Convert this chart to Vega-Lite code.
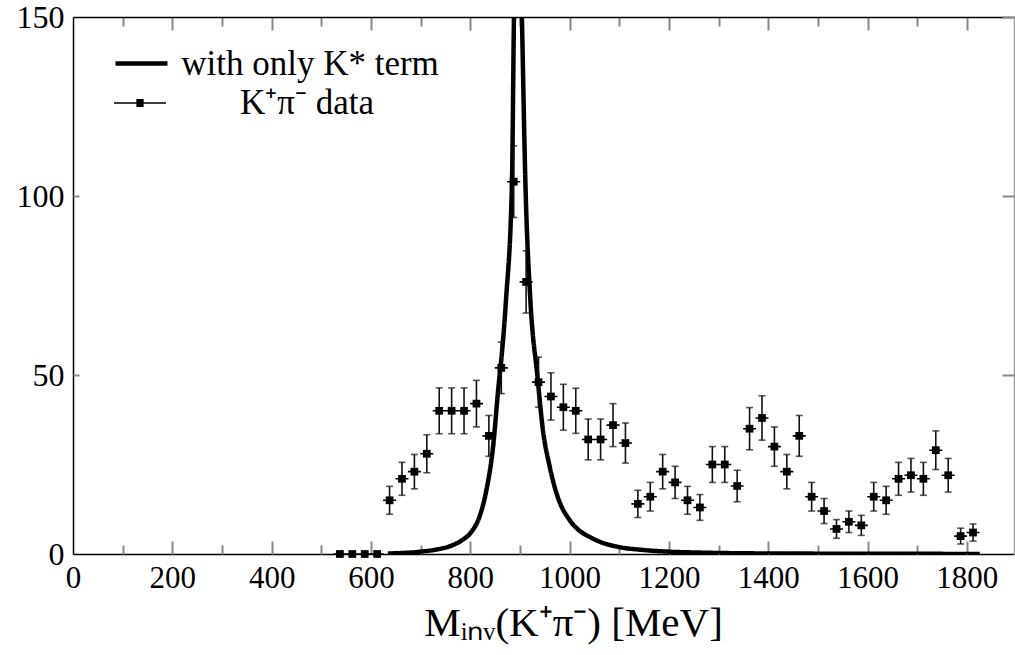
{
  "$schema": "https://vega.github.io/schema/vega-lite/v6.json",
  "autosize": {"type": "none"},
  "padding": {"left": 73, "top": 17, "right": 1, "bottom": 101},
  "width": 941,
  "height": 537,
  "background": "white",
  "config": {
    "view": {"stroke": null},
    "font": "Liberation Serif",
    "axis": {"grid": false, "labelFont": "Liberation Serif", "titleFont": "Liberation Serif", "labelColor": "black", "titleColor": "black", "titleFontWeight": "normal", "format": "d"}
  },
  "datasets": {
    "curve": [
      {"m": 634, "y": 0.15, "series": "with only K* term"},
      {"m": 660, "y": 0.25, "series": "with only K* term"},
      {"m": 700, "y": 0.65, "series": "with only K* term"},
      {"m": 730, "y": 1.2, "series": "with only K* term"},
      {"m": 765, "y": 2.5, "series": "with only K* term"},
      {"m": 785, "y": 4, "series": "with only K* term"},
      {"m": 800, "y": 5.8, "series": "with only K* term"},
      {"m": 820, "y": 11, "series": "with only K* term"},
      {"m": 832, "y": 17.5, "series": "with only K* term"},
      {"m": 846, "y": 30, "series": "with only K* term"},
      {"m": 857, "y": 47, "series": "with only K* term"},
      {"m": 863, "y": 55, "series": "with only K* term"},
      {"m": 872, "y": 71, "series": "with only K* term"},
      {"m": 884, "y": 104, "series": "with only K* term"},
      {"m": 888, "y": 150, "series": "with only K* term"},
      {"m": 896, "y": 200, "series": "with only K* term"},
      {"m": 904, "y": 150, "series": "with only K* term"},
      {"m": 911, "y": 104, "series": "with only K* term"},
      {"m": 921, "y": 71, "series": "with only K* term"},
      {"m": 935, "y": 50, "series": "with only K* term"},
      {"m": 946, "y": 35, "series": "with only K* term"},
      {"m": 960, "y": 24.4, "series": "with only K* term"},
      {"m": 976, "y": 16, "series": "with only K* term"},
      {"m": 1000, "y": 9.5, "series": "with only K* term"},
      {"m": 1020, "y": 6.5, "series": "with only K* term"},
      {"m": 1040, "y": 4.8, "series": "with only K* term"},
      {"m": 1065, "y": 3.2, "series": "with only K* term"},
      {"m": 1094, "y": 2.1, "series": "with only K* term"},
      {"m": 1150, "y": 1.1, "series": "with only K* term"},
      {"m": 1200, "y": 0.65, "series": "with only K* term"},
      {"m": 1260, "y": 0.4, "series": "with only K* term"},
      {"m": 1350, "y": 0.2, "series": "with only K* term"},
      {"m": 1500, "y": 0.1, "series": "with only K* term"},
      {"m": 1650, "y": 0.05, "series": "with only K* term"},
      {"m": 1826, "y": 0.03, "series": "with only K* term"}
    ],
    "pts": [
      {"m": 537.5, "n": 0, "lo": 0, "hi": 0, "series": "K⁺π⁻ data"},
      {"m": 562.5, "n": 0, "lo": 0, "hi": 0, "series": "K⁺π⁻ data"},
      {"m": 587.5, "n": 0, "lo": 0, "hi": 0, "series": "K⁺π⁻ data"},
      {"m": 612.5, "n": 0, "lo": 0, "hi": 0, "series": "K⁺π⁻ data"},
      {"m": 637.5, "n": 15, "lo": 11.1, "hi": 18.9, "series": "K⁺π⁻ data"},
      {"m": 662.5, "n": 21, "lo": 16.4, "hi": 25.6, "series": "K⁺π⁻ data"},
      {"m": 687.5, "n": 23, "lo": 18.2, "hi": 27.8, "series": "K⁺π⁻ data"},
      {"m": 712.5, "n": 28, "lo": 22.7, "hi": 33.3, "series": "K⁺π⁻ data"},
      {"m": 737.5, "n": 40, "lo": 33.6, "hi": 46.4, "series": "K⁺π⁻ data"},
      {"m": 762.5, "n": 40, "lo": 33.6, "hi": 46.4, "series": "K⁺π⁻ data"},
      {"m": 787.5, "n": 40, "lo": 33.6, "hi": 46.4, "series": "K⁺π⁻ data"},
      {"m": 812.5, "n": 42, "lo": 35.5, "hi": 48.5, "series": "K⁺π⁻ data"},
      {"m": 837.5, "n": 33, "lo": 27.3, "hi": 38.7, "series": "K⁺π⁻ data"},
      {"m": 862.5, "n": 52, "lo": 44.8, "hi": 59.2, "series": "K⁺π⁻ data"},
      {"m": 887.5, "n": 104, "lo": 94, "hi": 114, "series": "K⁺π⁻ data"},
      {"m": 912.5, "n": 76, "lo": 67.3, "hi": 84.7, "series": "K⁺π⁻ data"},
      {"m": 937.5, "n": 48, "lo": 41, "hi": 55, "series": "K⁺π⁻ data"},
      {"m": 962.5, "n": 44, "lo": 37.4, "hi": 50.6, "series": "K⁺π⁻ data"},
      {"m": 987.5, "n": 41, "lo": 34.6, "hi": 47.4, "series": "K⁺π⁻ data"},
      {"m": 1012.5, "n": 40, "lo": 33.7, "hi": 46.3, "series": "K⁺π⁻ data"},
      {"m": 1037.5, "n": 32, "lo": 26.3, "hi": 37.7, "series": "K⁺π⁻ data"},
      {"m": 1062.5, "n": 32, "lo": 26.3, "hi": 37.7, "series": "K⁺π⁻ data"},
      {"m": 1087.5, "n": 36, "lo": 30, "hi": 42, "series": "K⁺π⁻ data"},
      {"m": 1112.5, "n": 31, "lo": 25.4, "hi": 36.6, "series": "K⁺π⁻ data"},
      {"m": 1137.5, "n": 14, "lo": 10.2, "hi": 17.8, "series": "K⁺π⁻ data"},
      {"m": 1162.5, "n": 16, "lo": 12, "hi": 20, "series": "K⁺π⁻ data"},
      {"m": 1187.5, "n": 23, "lo": 18.2, "hi": 27.8, "series": "K⁺π⁻ data"},
      {"m": 1212.5, "n": 20, "lo": 15.5, "hi": 24.5, "series": "K⁺π⁻ data"},
      {"m": 1237.5, "n": 15, "lo": 11.1, "hi": 18.9, "series": "K⁺π⁻ data"},
      {"m": 1262.5, "n": 13, "lo": 9.4, "hi": 16.6, "series": "K⁺π⁻ data"},
      {"m": 1287.5, "n": 25, "lo": 20, "hi": 30, "series": "K⁺π⁻ data"},
      {"m": 1312.5, "n": 25, "lo": 20, "hi": 30, "series": "K⁺π⁻ data"},
      {"m": 1337.5, "n": 19, "lo": 14.6, "hi": 23.4, "series": "K⁺π⁻ data"},
      {"m": 1362.5, "n": 35, "lo": 29.1, "hi": 40.9, "series": "K⁺π⁻ data"},
      {"m": 1387.5, "n": 38, "lo": 31.8, "hi": 44.2, "series": "K⁺π⁻ data"},
      {"m": 1412.5, "n": 30, "lo": 24.5, "hi": 35.5, "series": "K⁺π⁻ data"},
      {"m": 1437.5, "n": 23, "lo": 18.2, "hi": 27.8, "series": "K⁺π⁻ data"},
      {"m": 1462.5, "n": 33, "lo": 27.3, "hi": 38.7, "series": "K⁺π⁻ data"},
      {"m": 1487.5, "n": 16, "lo": 12, "hi": 20, "series": "K⁺π⁻ data"},
      {"m": 1512.5, "n": 12, "lo": 8.5, "hi": 15.5, "series": "K⁺π⁻ data"},
      {"m": 1537.5, "n": 7, "lo": 4.4, "hi": 9.6, "series": "K⁺π⁻ data"},
      {"m": 1562.5, "n": 9, "lo": 6, "hi": 12, "series": "K⁺π⁻ data"},
      {"m": 1587.5, "n": 8, "lo": 5.2, "hi": 10.8, "series": "K⁺π⁻ data"},
      {"m": 1612.5, "n": 16, "lo": 12, "hi": 20, "series": "K⁺π⁻ data"},
      {"m": 1637.5, "n": 15, "lo": 11.1, "hi": 18.9, "series": "K⁺π⁻ data"},
      {"m": 1662.5, "n": 21, "lo": 16.4, "hi": 25.6, "series": "K⁺π⁻ data"},
      {"m": 1687.5, "n": 22, "lo": 17.3, "hi": 26.7, "series": "K⁺π⁻ data"},
      {"m": 1712.5, "n": 21, "lo": 16.4, "hi": 25.6, "series": "K⁺π⁻ data"},
      {"m": 1737.5, "n": 29, "lo": 23.6, "hi": 34.4, "series": "K⁺π⁻ data"},
      {"m": 1762.5, "n": 22, "lo": 17.3, "hi": 26.7, "series": "K⁺π⁻ data"},
      {"m": 1787.5, "n": 5, "lo": 2.8, "hi": 7.2, "series": "K⁺π⁻ data"},
      {"m": 1812.5, "n": 6, "lo": 3.6, "hi": 8.4, "series": "K⁺π⁻ data"}
    ]
  },
  "resolve": {"axis": {"x": "independent", "y": "independent"}},
  "layer": [
    {
      "data": {"name": "curve"},
      "mark": {"type": "line", "color": "black", "strokeWidth": 4.5, "interpolate": "monotone", "clip": true},
      "encoding": {
        "x": {"field": "m", "type": "quantitative", "scale": {"domain": [0, 1895], "nice": false, "zero": false},
          "axis": {"orient": "bottom", "values": [0, 200, 400, 600, 800, 1000, 1200, 1400, 1600, 1800], "ticks": false, "labelFontSize": 31, "labelPadding": 9, "labelFlush": false, "labelOverlap": false, "domain": true, "domainColor": "black", "domainWidth": 1.5,
            "title": "Mᵢₙᵥ(K⁺π⁻) [MeV]", "titleFontSize": 41, "titleX": 500, "titleY": 81, "titleBaseline": "alphabetic", "titleAlign": "center", "titleAnchor": null}},
        "y": {"field": "y", "type": "quantitative", "scale": {"domain": [0, 150], "nice": false},
          "axis": {"orient": "left", "values": [0, 50, 100, 150], "ticks": false, "labelFontSize": 32, "labelPadding": 9, "labelFlush": false, "labelOverlap": false, "domain": true, "domainColor": "black", "domainWidth": 1.5, "title": null}},
        "strokeDash": {"field": "series", "type": "nominal",
          "scale": {"domain": ["with only K* term"], "range": [[1, 0]]},
          "legend": {"orient": "none", "legendX": 40, "legendY": 18, "title": null, "symbolType": "stroke", "symbolSize": 2704, "symbolStrokeWidth": 4.5, "symbolStrokeColor": "black",
            "labelFont": "Liberation Serif", "labelFontSize": 35, "labelColor": "black", "labelAlign": "center", "labelOffset": 140, "labelLimit": 600}}
      }
    },
    {
      "data": {"name": "pts"},
      "mark": {"type": "rule", "color": "#111", "strokeWidth": 1.6},
      "encoding": {
        "x": {"field": "m", "type": "quantitative",
          "axis": {"orient": "bottom", "values": [100, 200, 300, 400, 500, 600, 700, 800, 900, 1000, 1100, 1200, 1300, 1400, 1500, 1600, 1700, 1800], "labels": false, "domain": false, "tickColor": "#888", "tickWidth": 2,
            "tickSize": {"condition": {"test": "datum.value % 200 === 0", "value": -13}, "value": -9}, "title": null}},
        "y": {"field": "lo", "type": "quantitative",
          "axis": {"orient": "left", "values": [50, 100], "labels": false, "domain": false, "tickColor": "#888", "tickWidth": 2, "tickSize": -6, "title": null}},
        "y2": {"field": "hi"}
      }
    },
    {
      "data": {"name": "pts"},
      "mark": {"type": "tick", "orient": "horizontal", "color": "#111", "size": 7, "thickness": 1.6},
      "encoding": {
        "x": {"field": "m", "type": "quantitative",
          "axis": {"orient": "top", "values": [100, 200, 300, 400, 500, 600, 700, 800, 900, 1000, 1100, 1200, 1300, 1400, 1500, 1600, 1700, 1800], "labels": false, "domain": true, "domainColor": "black", "domainWidth": 1.5, "tickColor": "#888", "tickWidth": 2,
            "tickSize": {"condition": {"test": "datum.value % 200 === 0", "value": -13}, "value": -9}, "title": null}},
        "y": {"field": "lo", "type": "quantitative",
          "axis": {"orient": "right", "values": [50, 100, 150], "labels": false, "domain": true, "domainColor": "#999", "domainWidth": 1.5, "tickColor": "#888", "tickWidth": 2, "tickSize": -12, "title": null}}
      }
    },
    {
      "data": {"name": "pts"},
      "mark": {"type": "tick", "orient": "horizontal", "color": "#111", "size": 7, "thickness": 1.6},
      "encoding": {
        "x": {"field": "m", "type": "quantitative", "axis": null},
        "y": {"field": "hi", "type": "quantitative", "axis": null}
      }
    },
    {
      "data": {"name": "pts"},
      "mark": {"type": "point", "filled": false, "size": 169, "color": "black", "strokeWidth": 1.6, "opacity": 1},
      "encoding": {
        "x": {"field": "m", "type": "quantitative", "axis": null},
        "y": {"field": "n", "type": "quantitative", "axis": null},
        "shape": {"field": "series", "type": "nominal",
          "scale": {"domain": ["K⁺π⁻ data"], "range": ["M-1,0H1M-0.14,-0.12H0.14M-0.14,-0.06H0.14M-0.14,0.06H0.14M-0.14,0.12H0.14"]},
          "legend": {"orient": "none", "legendX": 40, "legendY": 59, "title": null, "symbolSize": 2704, "symbolStrokeWidth": 1.6, "symbolStrokeColor": "black",
            "labelFont": "Liberation Serif", "labelFontSize": 35, "labelColor": "black", "labelAlign": "center", "labelOffset": 140, "labelLimit": 600}}
      }
    },
    {
      "data": {"name": "pts"},
      "mark": {"type": "point", "shape": "square", "filled": true, "size": 60, "color": "black", "opacity": 1},
      "encoding": {
        "x": {"field": "m", "type": "quantitative", "axis": null},
        "y": {"field": "n", "type": "quantitative", "axis": null}
      }
    }
  ]
}
